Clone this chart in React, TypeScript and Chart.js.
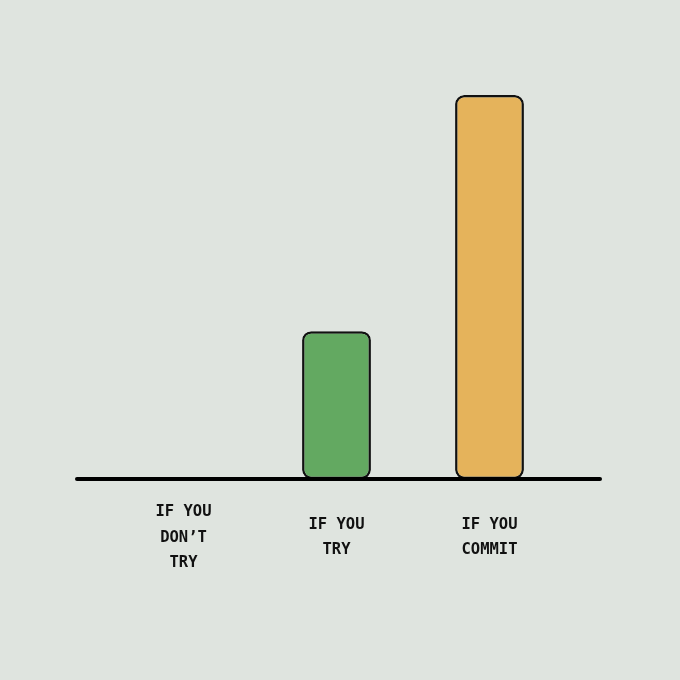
import React, { useEffect, useRef } from "react";
import { Chart, registerables } from "chart.js";

Chart.register(...registerables);

const categories: string[][] = [
  ["IF YOU", "DON’T", "TRY"],
  ["IF YOU", "TRY"],
  ["IF YOU", "COMMIT"],
];
const values: number[] = [0, 38.5, 100];
const barColors: string[] = ["#63a961", "#63a961", "#e5b35b"];

const BG = "#dfe4df";

const baselinePlugin = {
  id: "baseline",
  afterDatasetsDraw(chart: any) {
    const { ctx, chartArea, scales } = chart;
    const y = scales.y.getPixelForValue(0);
    ctx.save();
    ctx.strokeStyle = "#000";
    ctx.lineWidth = 4;
    ctx.lineCap = "round";
    ctx.beginPath();
    ctx.moveTo(chartArea.left - 30, y);
    ctx.lineTo(chartArea.right + 34, y);
    ctx.stroke();
    ctx.restore();
  },
};

export default function App() {
  const ref = useRef<HTMLCanvasElement>(null);
  useEffect(() => {
    if (!ref.current) return;
    const chart = new Chart(ref.current, {
      type: "bar",
      data: {
        labels: categories,
        datasets: [
          {
            data: values,
            backgroundColor: barColors,
            borderColor: "#111",
            borderWidth: 2.5,
            borderRadius: 9,
            borderSkipped: false,
            categoryPercentage: 1,
            barPercentage: 0.45,
          },
        ],
      },
      options: {
        animation: false,
        responsive: false,
        maintainAspectRatio: false,
        layout: { padding: { left: 107, right: 114, top: 95, bottom: 81 } },
        plugins: { legend: { display: false }, tooltip: { enabled: false } },
        scales: {
          y: { display: false, min: 0, max: 100 },
          x: {
            grid: { display: false, drawTicks: false },
            border: { display: false },
            afterFit: (scale: any) => {
              scale.height = 120;
            },
            ticks: {
              color: "#111",
              padding: 33,
              crossAlign: "center",
              maxRotation: 0,
              font: { family: "DejaVu Sans Mono", size: 15.5, weight: "bold", lineHeight: 1.65 },
            },
          },
        },
      },
      plugins: [baselinePlugin],
    });
    return () => chart.destroy();
  }, []);
  return (
    <div style={{ position: "fixed", left: 0, top: 0, width: 680, height: 680, background: BG }}>
      <canvas ref={ref} width={680} height={680} style={{ display: "block" }} />
    </div>
  );
}
